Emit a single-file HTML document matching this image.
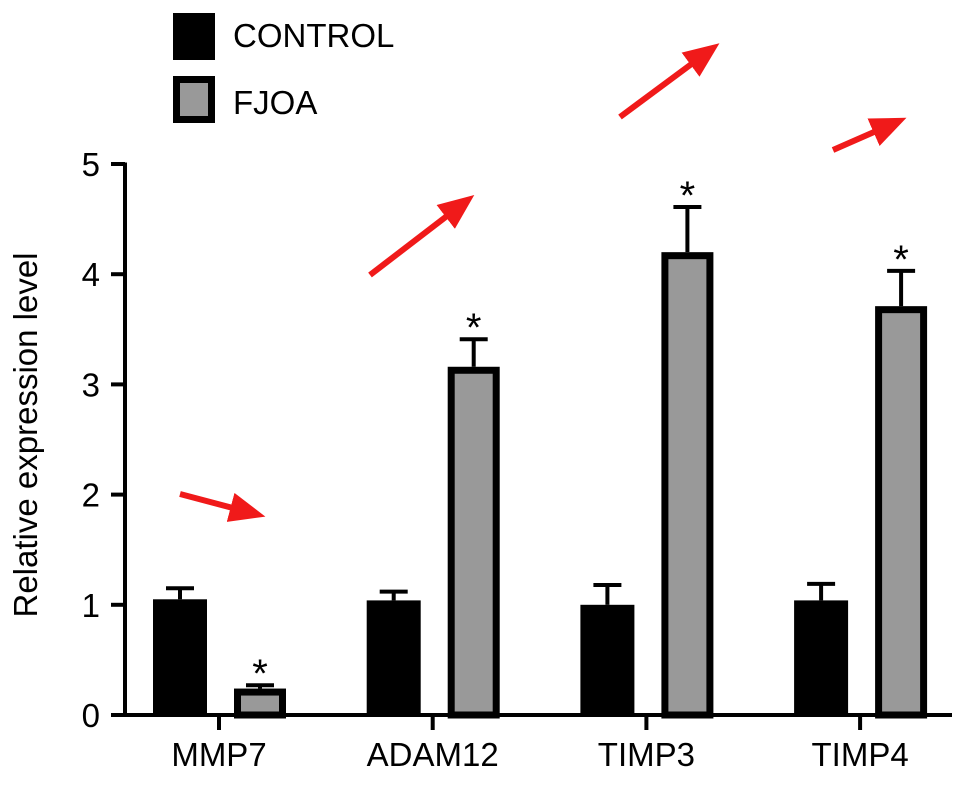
<!DOCTYPE html>
<html><head><meta charset="utf-8"><style>
body{margin:0;background:#fff}
svg{display:block;font-family:"Liberation Sans",Arial,sans-serif}
</style></head><body>
<svg id="chart" width="969" height="785" viewBox="0 0 969 785">
<defs><marker id="ah" markerWidth="6" markerHeight="5" refX="3" refY="2.5" orient="auto" markerUnits="strokeWidth"><path d="M0,0 L6,2.5 L0,5 z" fill="#f01a1a"/></marker></defs>
<g id="legend">
<rect x="173" y="13" width="42" height="47" fill="#000"/>
<text x="233" y="47" font-size="33">CONTROL</text>
<rect x="176.5" y="79.5" width="35" height="40" fill="#999" stroke="#000" stroke-width="7"/>
<text x="233" y="114" font-size="33">FJOA</text>
</g>
<text transform="translate(37,435) rotate(-90)" text-anchor="middle" font-size="33">Relative expression level</text>
<g id="axes"></g><g id="bars"></g>
<g id="arrows">
<line x1="180" y1="494" x2="248" y2="512" stroke="#f01a1a" stroke-width="6" marker-end="url(#ah)"/>
<line x1="370" y1="275" x2="460" y2="206" stroke="#f01a1a" stroke-width="6" marker-end="url(#ah)"/>
<line x1="620" y1="117" x2="705" y2="54" stroke="#f01a1a" stroke-width="6" marker-end="url(#ah)"/>
<line x1="833" y1="150" x2="890" y2="125" stroke="#f01a1a" stroke-width="6" marker-end="url(#ah)"/>
</g>
</svg>
<script>
const categories=["MMP7","ADAM12","TIMP3","TIMP4"];
const controlValues=[1.05,1.04,1.0,1.04];
const controlErrors=[0.1,0.08,0.18,0.15];
const fjoaValues=[0.24,3.16,4.2,3.71];
const fjoaErrors=[0.03,0.25,0.41,0.32];
const yTicks=[0,1,2,3,4,5];
const NS="http://www.w3.org/2000/svg";
const y0=715,yTop=164,yMax=5;
const y=v=>y0-(y0-yTop)*v/yMax;
const xC=i=>219+i*213.7;
function mk(tag,attrs,parent){const e=document.createElementNS(NS,tag);for(const k in attrs)e.setAttribute(k,attrs[k]);parent.appendChild(e);return e;}
const ax=document.getElementById('axes'),bars=document.getElementById('bars');
let l=mk('line',{x1:125,y1:y(yMax)-1.5,x2:125,y2:y0+1.5,stroke:'#000','stroke-width':4},ax);


l=mk('line',{x1:123,y1:y0,x2:952,y2:y0,stroke:'#000','stroke-width':4},ax);


yTicks.forEach(t=>{
 let tk=mk('line',{x1:111,y1:y(t),x2:125,y2:y(t),stroke:'#000','stroke-width':4},ax);
 
 
 let tx=mk('text',{x:100,y:y(t)+12,'text-anchor':'end','font-size':33},ax);tx.textContent=t;
 
 
});
categories.forEach((c,i)=>{
 const cx=xC(i);
 let tk=mk('line',{x1:cx,y1:y0,x2:cx,y2:y0+15,stroke:'#000','stroke-width':4},ax);
 
 
 let tx=mk('text',{x:cx,y:766,'text-anchor':'middle','font-size':33},ax);tx.textContent=c;
 
 
 const c1=cx-39,w1=54;
 let e=mk('line',{x1:c1,y1:y(controlValues[i]),x2:c1,y2:y(controlValues[i]+controlErrors[i]),stroke:'#000','stroke-width':4},bars);
 
 
 e=mk('line',{x1:c1-14,y1:y(controlValues[i]+controlErrors[i]),x2:c1+14,y2:y(controlValues[i]+controlErrors[i]),stroke:'#000','stroke-width':4},bars);
 
 
 let b=mk('rect',{x:c1-w1/2,y:y(controlValues[i]),width:w1,height:y0-y(controlValues[i]),fill:'#000'},bars);
 
 
 const c2=cx+41,w2=52;
 const top=y(fjoaValues[i]+fjoaErrors[i]);
 e=mk('line',{x1:c2,y1:y(fjoaValues[i]),x2:c2,y2:top,stroke:'#000','stroke-width':4},bars);
 
 
 e=mk('line',{x1:c2-14,y1:top,x2:c2+14,y2:top,stroke:'#000','stroke-width':4},bars);
 
 
 b=mk('rect',{x:c2-w2/2+3.5,y:y(fjoaValues[i])+3.5,width:w2-7,height:y0-y(fjoaValues[i])-3.5,fill:'#999',stroke:'#000','stroke-width':7},bars);
 
 
 let s=mk('text',{x:c2,y:top+2,'text-anchor':'middle','font-size':40},bars);s.textContent='*';
 
 
});
</script>
</body></html>
